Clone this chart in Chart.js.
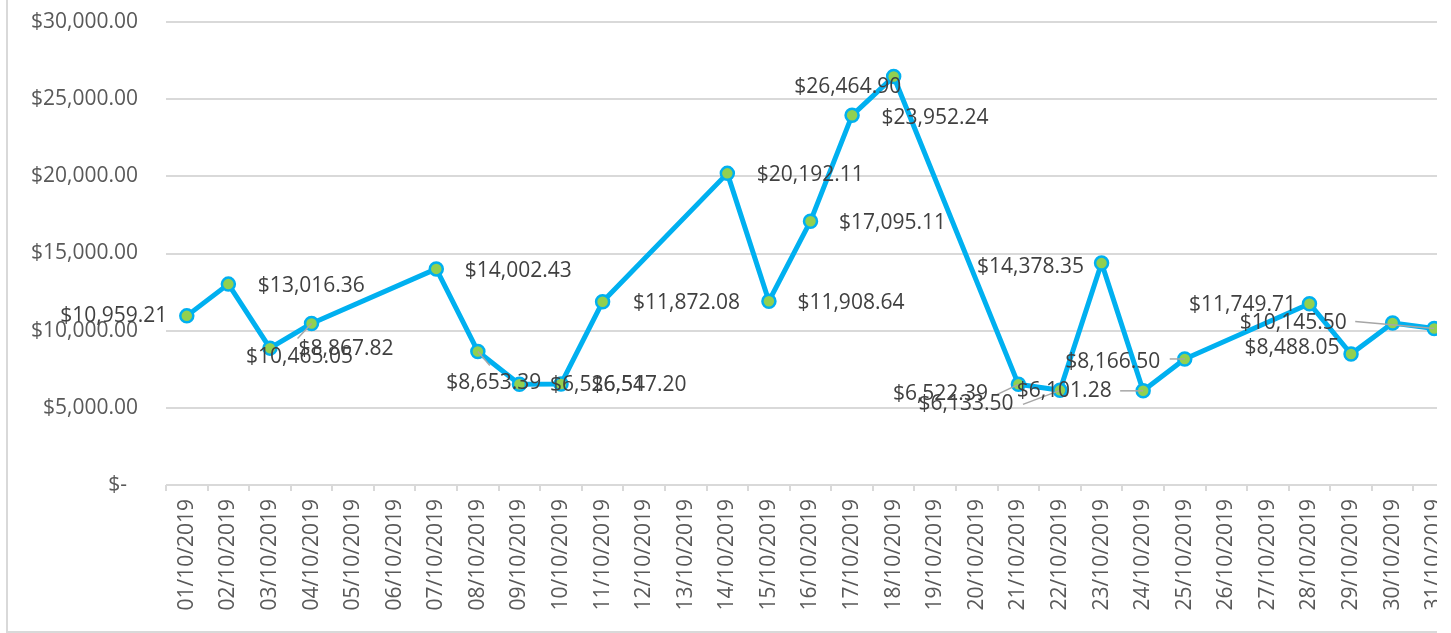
<!DOCTYPE html>
<html>
<head>
<meta charset="utf-8">
<script src="https://cdn.jsdelivr.net/npm/chart.js@4"></script>
<style>
  html, body { margin: 0; padding: 0; background: #fff; }
  #clip { position: absolute; left: 0; top: 0; width: 1437px; height: 633px; overflow: hidden; background: #fff; }
  #frame { position: absolute; left: 6px; top: -10px; width: 1500px; height: 641px;
           border-left: 2px solid #d9d9d9; border-bottom: 2px solid #d9d9d9; }
  #wrap { position: absolute; left: 0; top: 0; width: 1475px; height: 633px; }
</style>
</head>
<body>
<div id="clip">
  <div id="frame"></div>
  <div id="wrap"><canvas id="salesChart"></canvas></div>
</div>
<script>
const dates = [
  "01/10/2019", "02/10/2019", "03/10/2019", "04/10/2019", "05/10/2019", "06/10/2019",
  "07/10/2019", "08/10/2019", "09/10/2019", "10/10/2019", "11/10/2019", "12/10/2019",
  "13/10/2019", "14/10/2019", "15/10/2019", "16/10/2019", "17/10/2019", "18/10/2019",
  "19/10/2019", "20/10/2019", "21/10/2019", "22/10/2019", "23/10/2019", "24/10/2019",
  "25/10/2019", "26/10/2019", "27/10/2019", "28/10/2019", "29/10/2019", "30/10/2019",
  "31/10/2019"
];

// null = no sales recorded that day (line spans the gap)
const sales = [
  10959.21, 13016.36, 8867.82, 10465.05, null, null,
  14002.43, 8653.39, 6526.51, 6547.20, 11872.08, null,
  null, 20192.11, 11908.64, 17095.11, 23952.24, 26464.90,
  null, null, 6522.39, 6133.50, 14378.35, 6101.28,
  8166.50, null, null, 11749.71, 8488.05, 10500.00,
  10145.50
];

const yTicks = [0, 5000, 10000, 15000, 20000, 25000, 30000];

// label placement, pixels from the point: [dx, dy] of the text centre,
// optional [lx, ly] where the grey leader line starts
const labelPos = [
  [-73, 0], [83, 2], [76, 1], [-12, 34, -14, 15], null, null,
  [82, 2], [16, 32, 12, 14], [78, 1], [78, 1], [84, 1], null,
  null, [83, 2], [82, 2], [82, 2], [83, 3], [-46, 10],
  null, null, [-78, 10, -21, 10], [-94, 14, -37, 14], [-71, 4], [-79, 0, -23, 0],
  [-72, 3, -15, 0], null, null, [-67, 1], [-59, -6], null,
  [-141, -5, -79, -7]
];

const FONT = "'Open Sans', sans-serif";

function money(v) {
  if (v === 0) return "$-  ";
  return "$" + v.toLocaleString("en-US", { minimumFractionDigits: 2, maximumFractionDigits: 2 });
}

const dataLabels = {
  id: "dataLabels",
  afterDatasetsDraw(chart) {
    const ctx = chart.ctx;
    const meta = chart.getDatasetMeta(0);
    ctx.save();
    ctx.font = "21px " + FONT;
    ctx.textAlign = "center";
    ctx.textBaseline = "middle";
    meta.data.forEach((pt, i) => {
      const pos = labelPos[i];
      if (sales[i] == null || !pos) return;
      if (pos.length > 2) {
        ctx.strokeStyle = "#a6a6a6";
        ctx.lineWidth = 1.5;
        ctx.beginPath();
        ctx.moveTo(pt.x + pos[2], pt.y + pos[3]);
        ctx.lineTo(pt.x, pt.y);
        ctx.stroke();
      }
      ctx.fillStyle = "#404040";
      ctx.fillText(money(sales[i]), pt.x + pos[0], pt.y + pos[1]);
    });
    ctx.restore();
  }
};

const ctx = document.getElementById("salesChart").getContext("2d");
new Chart(ctx, {
  type: "line",
  data: {
    labels: dates,
    datasets: [{
      label: "Sales",
      data: sales,
      spanGaps: true,
      borderColor: "#00b0f0",
      borderWidth: 5,
      borderJoinStyle: "round",
      borderCapStyle: "round",
      tension: 0,
      pointRadius: 6.5,
      pointBorderWidth: 2.5,
      pointBackgroundColor: "#92d050",
      pointBorderColor: "#00b0f0"
    }]
  },
  options: {
    responsive: true,
    maintainAspectRatio: false,
    animation: false,
    layout: { padding: { top: 22, right: 20, bottom: 0, left: 0 } },
    plugins: {
      legend: { display: false },
      tooltip: { enabled: false }
    },
    scales: {
      x: {
        offset: true,
        afterFit(scale) {
          scale.height = 148;
          scale.paddingTop = 0;
          scale.paddingBottom = 0;
        },
        border: { display: false },
        grid: {
          offset: true,
          drawOnChartArea: false,
          drawTicks: true,
          tickLength: 6,
          color: "#d9d9d9",
          lineWidth: 2
        },
        ticks: {
          autoSkip: false,
          minRotation: 90,
          maxRotation: 90,
          padding: 8,
          color: "#595959",
          font: { family: FONT, size: 21 }
        }
      },
      y: {
        min: 0,
        max: 30000,
        afterFit(scale) {
          scale.width = 166;
          scale.paddingTop = 0;
          scale.paddingBottom = 0;
        },
        afterBuildTicks(scale) { scale.ticks = yTicks.map((v) => ({ value: v })); },
        border: { display: false },
        grid: { drawTicks: false, color: "#d9d9d9", lineWidth: 2 },
        ticks: {
          padding: 28,
          color: "#595959",
          font: { family: FONT, size: 21 },
          callback: (v) => money(v)
        }
      }
    }
  },
  plugins: [dataLabels]
});
</script>
</body>
</html>
